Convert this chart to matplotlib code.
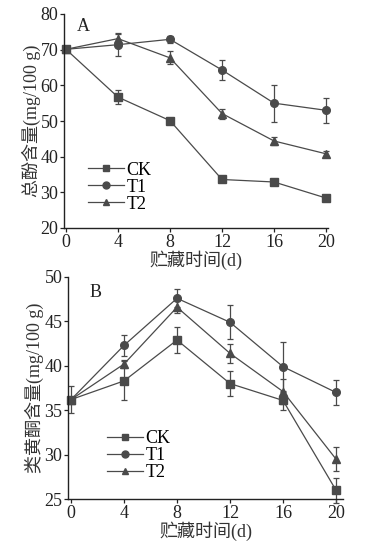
import numpy as np
import matplotlib.pyplot as plt
from matplotlib.lines import Line2D

plt.rcParams['font.family'] = ['Liberation Serif', 'Noto Sans CJK SC']

days = [0, 4, 8, 12, 16, 20]

# panel A: total phenols
ck_a = [70.1, 56.7, 50.1, 33.6, 32.9, 28.4]
ck_a_err = [0.4, 2.0, 0.4, 0.4, 0.4, 0.4]
t1_a = [70.1, 71.4, 72.9, 64.3, 55.0, 53.0]
t1_a_err = [0.4, 3.2, 1.0, 2.7, 5.2, 3.5]
t2_a = [70.1, 73.1, 67.7, 52.1, 44.4, 40.8]
t2_a_err = [0.4, 1.4, 1.8, 1.4, 1.0, 0.8]

# panel B: flavonoids
ck_b = [36.2, 38.3, 42.9, 38.0, 36.1, 26.0]
ck_b_err = [1.5, 2.2, 1.45, 1.4, 1.1, 1.4]
t1_b = [36.2, 42.3, 47.6, 44.9, 39.9, 37.0]
t1_b_err = [0.3, 1.2, 1.0, 1.9, 2.8, 1.4]
t2_b = [36.2, 40.2, 46.6, 41.4, 37.1, 29.5]
t2_b_err = [0.3, 0.4, 0.7, 1.1, 1.4, 1.3]

names = ['CK', 'T1', 'T2']
markers = ['s', 'o', '^']
col = '#4a4a4a'
fs = 13

W, H = 375, 549
fig = plt.figure(figsize=(W / 100, H / 100), dpi=100)


def panel(rect, series, errs, ylim, yticks, xlim, ylabel, tag, tagpos, legpos):
    l, t, r, b = rect
    ax = fig.add_axes([l / W, (H - b) / H, (r - l) / W, (b - t) / H])
    handles = []
    for y, e, m, n in zip(series, errs, markers, names):
        ax.errorbar(days, y, yerr=e, color=col, marker=m, markersize=5.5,
                    linewidth=0.9, elinewidth=0.9, capsize=2.5, capthick=0.9,
                    clip_on=False)
        handles.append(Line2D([], [], color=col, marker=m, markersize=5,
                              linewidth=0.9, label=n))
    ax.set_xlim(*xlim)
    ax.set_ylim(*ylim)
    ax.set_xticks(days)
    ax.set_yticks(yticks)
    for s in ['top', 'right']:
        ax.spines[s].set_visible(False)
    for s in ['left', 'bottom']:
        ax.spines[s].set_linewidth(1.0)
        ax.spines[s].set_color('#222222')
    ax.tick_params(labelsize=fs, length=3, width=0.9, pad=1, colors='#222222')
    ax.set_xlabel('贮藏时间(d)', fontsize=fs, labelpad=0, color='#333333')
    ax.set_ylabel(ylabel, fontsize=fs, labelpad=0, color='#333333')
    ax.text(tagpos[0], tagpos[1], tag, transform=ax.transAxes, fontsize=fs,
            color='#222222', va='center')
    ax.legend(handles=handles, loc='upper left', bbox_to_anchor=legpos,
              frameon=False, fontsize=fs, handlelength=2.0, handletextpad=0.15,
              labelspacing=0.0, borderpad=0, borderaxespad=0)
    return ax


panel((64, 14, 328, 228), [ck_a, t1_a, t2_a], [ck_a_err, t1_a_err, t2_a_err],
      (20, 80), [20, 30, 40, 50, 60, 70, 80], (-0.15, 20.15),
      '总酚含量(mg/100 g)', 'A', (0.05, 0.94), (0.09, 0.31))

panel((68, 277, 343, 499), [ck_b, t1_b, t2_b], [ck_b_err, t1_b_err, t2_b_err],
      (25, 50), [25, 30, 35, 40, 45, 50], (-0.23, 20.53),
      '类黄酮含量(mg/100 g)', 'B', (0.08, 0.93), (0.14, 0.31))

fig.savefig('out.png', dpi=100)
